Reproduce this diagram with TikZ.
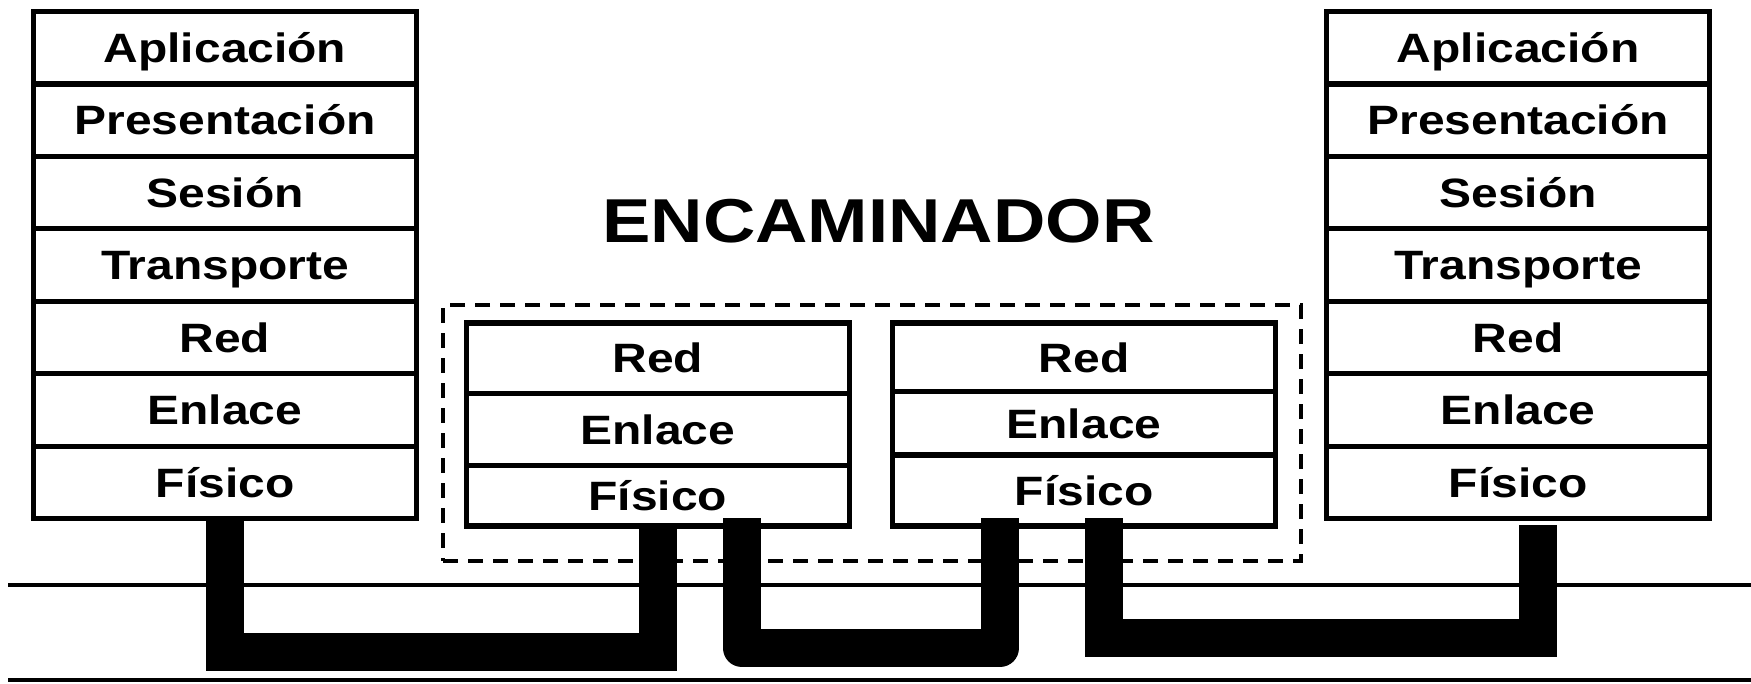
\documentclass[tikz,border=0pt]{standalone}
\usepackage{fontspec}
\newfontfamily\capafont{Liberation Sans}[FakeStretch=1.17]
\usetikzlibrary{positioning,calc}

\begin{document}
\begin{tikzpicture}[x=0.3pt,y=-0.3pt,% one unit is one pixel of the page
      every node/.style={
        inner sep=0pt,
        outer sep=0pt,
        font=\capafont\bfseries\fontsize{12.3}{14}\selectfont
      },
      capa/.style={rectangle,draw=black,line width=1.55pt,fill=white,
        minimum width=115pt,minimum height=21.73pt,
        text height=8.8pt,text depth=0pt},
      cable/.style={draw,line width=11.4pt},
      linea/.style={draw,line width=1.2pt}
    ]
    \useasboundingbox (0,0) rectangle (1751,683);
    % the two lines of the medium
    \coordinate (ma-l) at (8,584.5);
    \coordinate (ma-r) at (1751,584.5);
    \coordinate (mb-l) at (8,680);
    \coordinate (mb-r) at (1751,680);
    \draw[linea] (ma-l) -- (ma-r);
    \draw[linea] (mb-l) -- (mb-r);
    % router frame and title
    \node[rectangle,draw=black,line width=1.35pt,dash pattern=on 4.5pt off 3pt,
      minimum width=257.4pt,minimum height=76.8pt](enc) at (872,433) {};
    \node[font=\capafont\bfseries\fontsize{18.6}{22}\selectfont,text height=13.3pt,text depth=0pt,xshift=1.95pt]
      (titulo)[above=18.7pt of enc]{ENCAMINADOR};
    % origin host
    \node[capa](o-apl) at (225,47.8) {Aplicación};
    \node[capa](o-pre)[below=0pt of o-apl]{Presentación};
    \node[capa](o-ses)[below=0pt of o-pre]{Sesión};
    \node[capa](o-tra)[below=0pt of o-ses]{Transporte};
    \node[capa](o-red)[below=0pt of o-tra]{Red};
    \node[capa](o-enl)[below=0pt of o-red]{Enlace};
    \node[capa](o-fis)[below=0pt of o-enl]{Físico};
    % destination host
    \node[capa](d-apl) at (1518,47.8) {Aplicación};
    \node[capa](d-pre)[below=0pt of d-apl]{Presentación};
    \node[capa](d-ses)[below=0pt of d-pre]{Sesión};
    \node[capa](d-tra)[below=0pt of d-ses]{Transporte};
    \node[capa](d-red)[below=0pt of d-tra]{Red};
    \node[capa](d-enl)[below=0pt of d-red]{Enlace};
    \node[capa](d-fis)[below=0pt of d-enl]{Físico};
    % router, left side
    \node[capa,minimum height=21.15pt](rl-red) at (657.8,358.25) {Red};
    \node[capa,minimum height=21.5pt](rl-enl)[below=0pt of rl-red]{Enlace};
    \node[capa,minimum height=18.25pt](rl-fis)[below=0pt of rl-enl]{Físico};
    % router, right side
    \node[capa,minimum height=20.6pt](rr-red) at (1084,357.35) {Red};
    \node[capa,minimum height=19pt](rr-enl)[below=0pt of rr-red]{Enlace};
    \node[capa,minimum height=21.3pt](rr-fis)[below=0pt of rr-enl]{Físico};
    % cables
    \draw[cable] (o-fis.south) -- ++(0,133) -| (rl-fis.south);
    \draw[cable,line join=round] ($(rl-fis.south)+(84,-8)$) -- ++(0,130) -| ($(rr-fis.south)+(-84,-8)$);
    \draw[cable] ($(rr-fis.south)+(20,-8)$) -- ++(0,120) -| ($(d-fis.south)+(20,6)$);
  \end{tikzpicture}
\end{document}
